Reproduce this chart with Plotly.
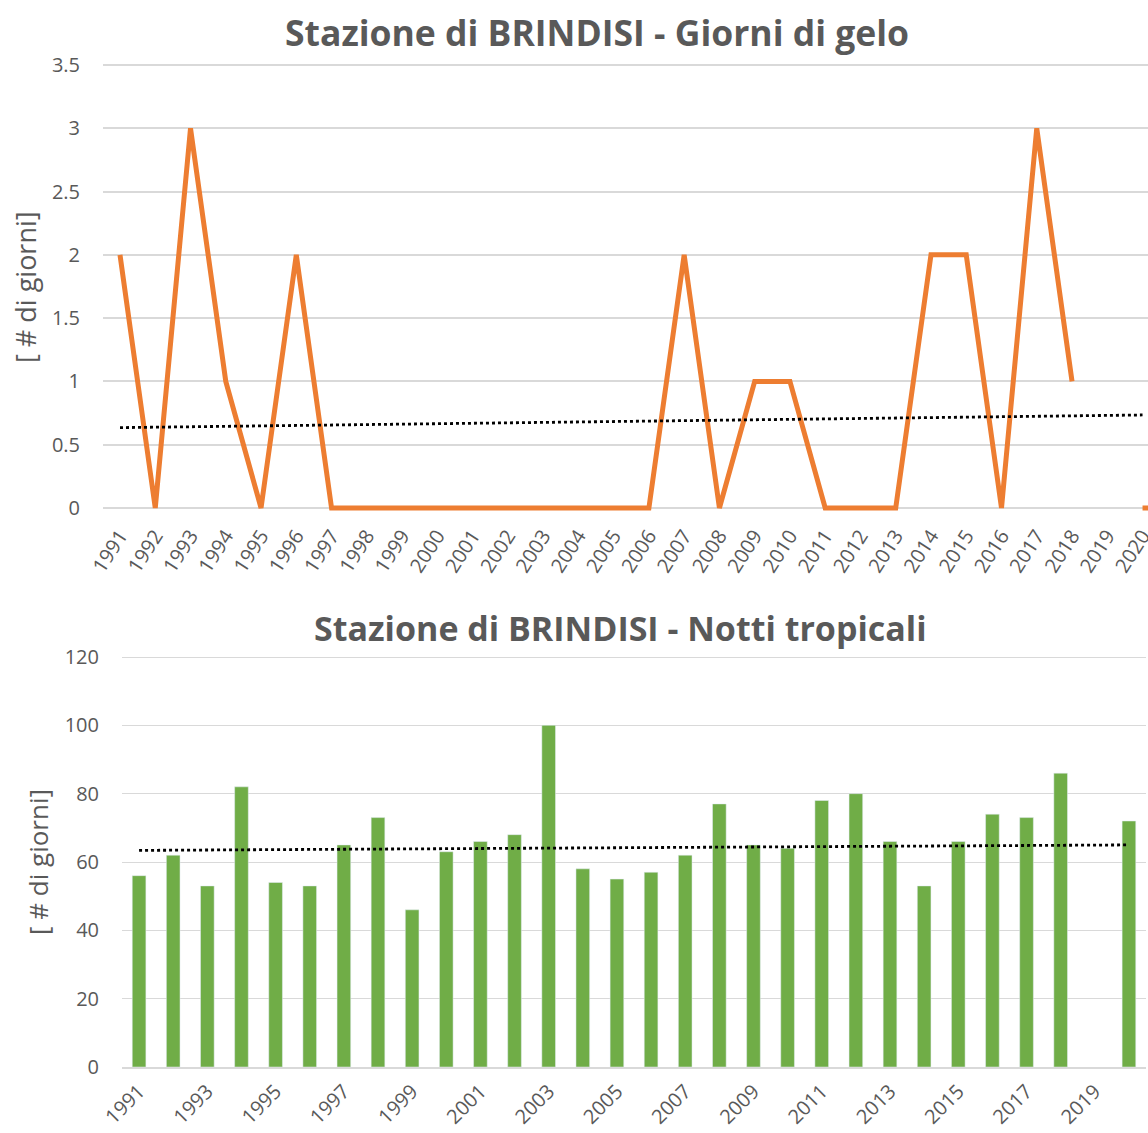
import plotly.graph_objects as go

# ---------------- data ----------------
frost_years = list(range(1991, 2022))
frost_days = [2, 0, 3, 1, 0, 2, 0, 0, 0, 0, 0, 0, 0, 0, 0, 0,
              2, 0, 1, 1, 0, 0, 0, 2, 2, 0, 3, 1, None, 0, 0]
frost_tick_years = list(range(1991, 2021))
frost_trend_years = [1991, 2020]
frost_trend_vals = [0.635, 0.735]

trop_years = list(range(1991, 2021))
trop_nights = [56, 62, 53, 82, 54, 53, 65, 73, 46, 63, 66, 68, 100, 58, 55, 57,
               62, 77, 65, 64, 78, 80, 66, 53, 66, 74, 73, 86, None, 72]
trop_tick_years = list(range(1991, 2021, 2))
trop_trend_years = [1991, 2020]
trop_trend_vals = [63.4, 65.0]

W, H = 1148, 1133
def fx(px): return px / W
def fy(py): return 1 - py / H

ORANGE = "#ED7D31"
GREEN = "#70AD47"
GRAY = "#595959"
GRID = "#d9d9d9"
FONT = "Open Sans"

fig = go.Figure()

# top: frost days
fig.add_trace(go.Scatter(x=frost_years, y=frost_days, mode="lines",
                         line=dict(color=ORANGE, width=5), connectgaps=False,
                         xaxis="x", yaxis="y", showlegend=False))
fig.add_trace(go.Scatter(x=frost_trend_years, y=frost_trend_vals, mode="lines",
                         line=dict(color="black", width=2.8, dash="dot"),
                         xaxis="x", yaxis="y", showlegend=False))

# bottom: tropical nights
fig.add_trace(go.Bar(x=trop_years, y=trop_nights, marker_color=GREEN,
                     width=0.4, xaxis="x2", yaxis="y2", showlegend=False))
fig.add_trace(go.Scatter(x=trop_trend_years, y=trop_trend_vals, mode="lines",
                         line=dict(color="black", width=2.8, dash="dot"),
                         xaxis="x2", yaxis="y2", showlegend=False))

# top axes geometry
top_px_per_unit = (508 - 65) / 3.5
y_lo, y_hi = -0.05, 3.55
top_dom_top = 65 - (y_hi - 3.5) * top_px_per_unit
top_dom_bot = 508 + (0 - y_lo) * top_px_per_unit
x_sp = 35.26
x_left = 1991 - (120 - 103) / x_sp
x_right = 1991 + (W - 120) / x_sp

bot_px_per_unit = (1067 - 657) / 120
b_hi = 121.5
bot_dom_top = 657 - (b_hi - 120) * bot_px_per_unit

fig.update_layout(
    width=W, height=H, autosize=False,
    margin=dict(l=0, r=0, t=0, b=0, pad=0),
    paper_bgcolor="white", plot_bgcolor="white",
    font=dict(family=FONT, color=GRAY),
    bargap=0.6,
    xaxis=dict(domain=[fx(103), 1], range=[x_left, x_right],
               tickmode="array", tickvals=frost_tick_years,
               ticktext=[str(v) for v in frost_tick_years],
               tickangle=-57, tickfont=dict(size=20, color=GRAY),
               ticklabeloverflow="allow", ticklabelstandoff=5,
               showgrid=False, zeroline=False, showline=False, ticks="",
               automargin=False, anchor="y"),
    yaxis=dict(domain=[fy(top_dom_bot), fy(top_dom_top)], range=[y_lo, y_hi],
               tickmode="array", tickvals=[0, 0.5, 1, 1.5, 2, 2.5, 3, 3.5],
               ticktext=["0", "0.5", "1", "1.5", "2", "2.5", "3", "3.5"],
               tickfont=dict(size=20, color=GRAY), showgrid=True,
               gridcolor=GRID, gridwidth=2, zeroline=False, showline=False,
               ticks="", ticklabelstandoff=22, automargin=False, anchor="x"),
    xaxis2=dict(domain=[fx(122), fx(1146)], range=[1990.5, 2020.5],
                tickmode="array", tickvals=trop_tick_years,
                ticktext=[str(v) for v in trop_tick_years],
                tickangle=-45, tickfont=dict(size=20, color=GRAY),
                ticklabeloverflow="allow", ticklabelstandoff=3,
                showgrid=False, zeroline=False, showline=True,
                linecolor=GRID, linewidth=1.5, ticks="",
                automargin=False, anchor="y2"),
    yaxis2=dict(domain=[fy(1067), fy(bot_dom_top)], range=[0, b_hi],
                tickmode="array", tickvals=[0, 20, 40, 60, 80, 100, 120],
                tickfont=dict(size=20, color=GRAY), showgrid=True,
                gridcolor=GRID, gridwidth=1, zeroline=False, showline=False,
                ticks="", ticklabelstandoff=22, automargin=False,
                anchor="x2"),
    annotations=[
        dict(text="<b>Stazione di BRINDISI - Giorni di gelo</b>",
             x=fx(597), y=fy(32), xref="paper", yref="paper",
             xanchor="center", yanchor="middle", showarrow=False,
             font=dict(size=35.5, color=GRAY, family=FONT)),
        dict(text="<b>Stazione di BRINDISI - Notti tropicali</b>",
             x=fx(620), y=fy(628), xref="paper", yref="paper",
             xanchor="center", yanchor="middle", showarrow=False,
             font=dict(size=34, color=GRAY, family=FONT)),
        dict(text="[ # di giorni]", x=fx(25), y=fy(287), xref="paper",
             yref="paper", xanchor="center", yanchor="middle",
             showarrow=False, textangle=-90,
             font=dict(size=27, color=GRAY, family=FONT)),
        dict(text="[ # di giorni]", x=fx(38), y=fy(862), xref="paper",
             yref="paper", xanchor="center", yanchor="middle",
             showarrow=False, textangle=-90,
             font=dict(size=26, color=GRAY, family=FONT)),
    ],
)

fig.write_html(
    "out.html",
    config={"displayModeBar": False},
    post_script="document.body.style.margin='0';document.body.style.padding='0';"
                "document.documentElement.style.overflow='hidden';",
)
